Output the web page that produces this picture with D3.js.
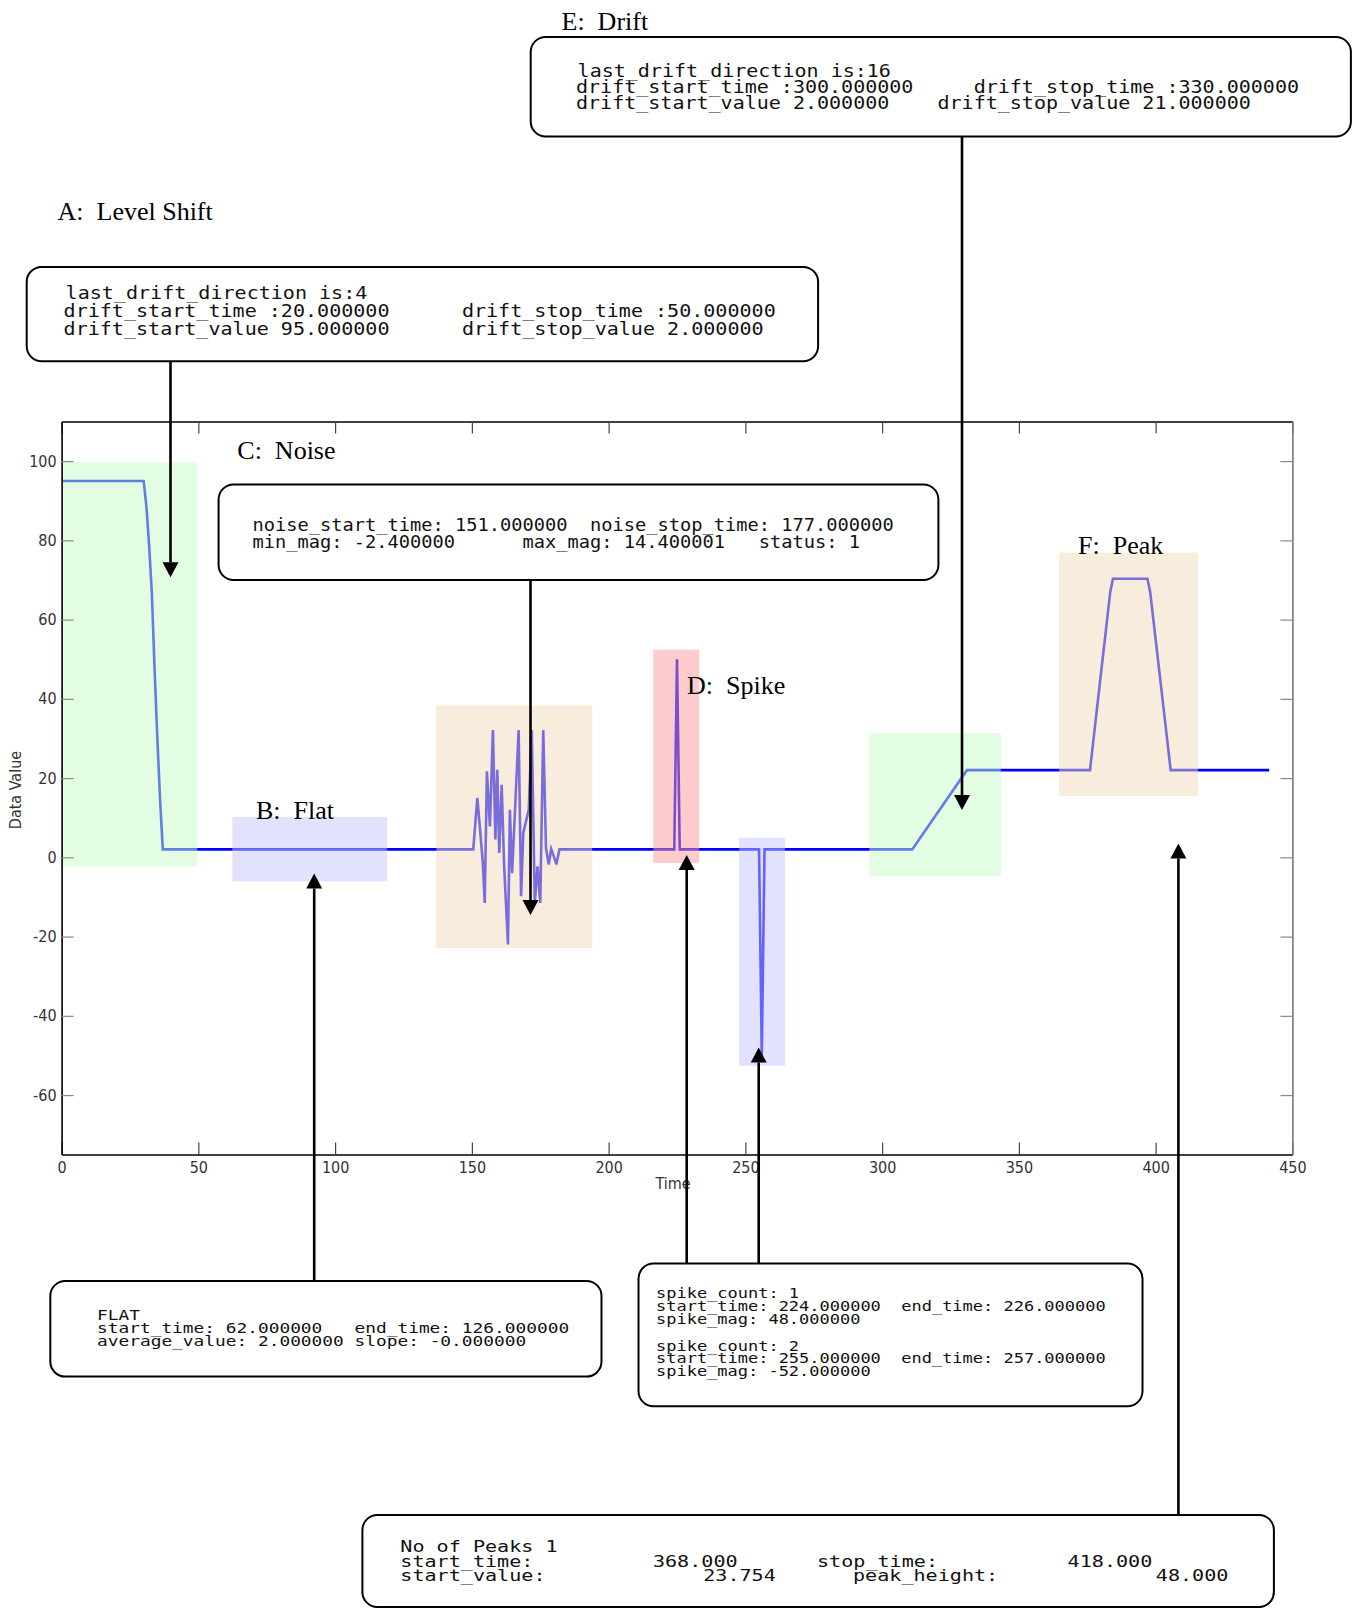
<!DOCTYPE html>
<html><head><meta charset="utf-8">
<script src="https://cdn.jsdelivr.net/npm/d3@7/dist/d3.min.js"></script>
<style>body{margin:0;background:#fff}svg{display:block}</style>
</head><body>
<svg id="c" width="1356" height="1609"></svg>
<script>
// ---------------- DATA ----------------
const xTicks = [0, 50, 100, 150, 200, 250, 300, 350, 400, 450];
const yTicks = [-60, -40, -20, 0, 20, 40, 60, 80, 100];
const xDomain = [0, 450];
const yDomain = [-75, 110];

// time series breakpoints (Time, Data Value)
const timeValues = [0.5, 30, 31, 32, 33, 34, 35, 36, 37,
  150.5, 152, 153, 154, 154.7, 155.5, 156.6, 157.7, 158.6, 159.3, 160, 160.9, 161.8, 163.2, 163.9,
  164.7, 165.4, 167.1, 168, 168.8, 170.8, 171.9, 173, 174, 175, 176.1, 177.1, 178.1, 179, 180, 180.9, 182,
  224, 225, 226, 255, 256, 257, 311, 331, 376, 383.4, 384.4, 397, 398, 405.5, 441.5];
const dataValues = [95, 95, 88.6, 78.7, 66.6, 47.4, 30.1, 14.6, 2,
  2, 15, 7, -1.4, -11.5, 21.7, 7.8, 32.1, 4.5, 22.1, 1.1, 18.3, -2.3, -22, 12,
  -4, 6.2, 32.1, -9.8, 6.2, 12, 32.1, -11.5, -2.3, -11.5, 32.1, 2.3, -1.8, 2.1, 0.2, -1.8, 2,
  2, 50, 2, 2, -50, 2, 2, 22, 22, 67, 70.3, 70.3, 67, 22, 22];

// highlighted event regions
const regionNames = ["A", "B", "C", "D1", "D2", "E", "F"];
const regionStart = [0.5, 62.4, 137, 216.3, 247.7, 295.3, 364.7];
const regionEnd   = [49.6, 119, 194, 233.1, 264.5, 343.4, 415.5];
const regionLow   = [-2.3, -6.1, -22.9, -1.4, -52.6, -4.8, 15.5];
const regionHigh  = [99.7, 10.2, 38.3, 52.4, 4.9, 31.3, 76.9];

const sectionLabels = ["A:  Level Shift", "B:  Flat", "C:  Noise", "D:  Spike", "E:  Drift", "F:  Peak"];

const levelShiftText = ["last_drift_direction is:4",
  "drift_start_time :20.000000      drift_stop_time :50.000000",
  "drift_start_value 95.000000      drift_stop_value 2.000000"];
const driftText = ["last_drift_direction is:16",
  "drift_start_time :300.000000     drift_stop_time :330.000000",
  "drift_start_value 2.000000    drift_stop_value 21.000000"];
const noiseText = ["noise_start_time: 151.000000  noise_stop_time: 177.000000",
  "min_mag: -2.400000      max_mag: 14.400001   status: 1"];
const flatText = ["FLAT",
  "start_time: 62.000000   end_time: 126.000000",
  "average_value: 2.000000 slope: -0.000000"];
const spikeText = ["spike_count: 1",
  "start_time: 224.000000  end_time: 226.000000",
  "spike_mag: 48.000000",
  "spike_count: 2",
  "start_time: 255.000000  end_time: 257.000000",
  "spike_mag: -52.000000"];
const peakText = ["No of Peaks 1", "start_time:", "start_value:", "368.000", "23.754",
  "stop_time:", "peak_height:", "418.000", "48.000"];

// ---------------- LAYOUT / STYLE ----------------
const svg = d3.select("#c");
const PL = 61.6, PR = 1292.4, PT = 421.5, PB = 1154.5;
const x = d3.scaleLinear().domain(xDomain).range([PL, PR]);
const y = d3.scaleLinear().domain(yDomain).range([PB, PT]);
const regionFill = {A: "#c5fbc5", B: "#c5c5ff", C: "#f1d9b9", D1: "#f99999", D2: "#c5c5ff", E: "#c5fbc5", F: "#f1d9b9"};
const axisFont = "'Liberation Sans Narrow','Arial Narrow','DejaVu Sans Condensed',sans-serif";
const serif = "'Liberation Serif','Times New Roman',serif";
const mono = "'DejaVu Sans Mono','Liberation Mono',monospace";

svg.append("rect").attr("width", 1356).attr("height", 1609).attr("fill", "#fff");

// annotation boxes
const boxes = [
  {x: 26.7, y: 266.9, w: 791.4, h: 94.4},
  {x: 530.7, y: 37, w: 820.2, h: 99.5},
  {x: 218.6, y: 484.5, w: 719.8, h: 95.5},
  {x: 50.3, y: 1281, w: 551.2, h: 95.6},
  {x: 638.5, y: 1263.6, w: 504, h: 142.7},
  {x: 362.4, y: 1515, w: 911.5, h: 92}
];
svg.append("g").selectAll("rect").data(boxes).join("rect")
  .attr("x", d => d.x).attr("y", d => d.y).attr("width", d => d.w).attr("height", d => d.h)
  .attr("rx", 15).attr("ry", 15).attr("fill", "#fff").attr("stroke", "#000").attr("stroke-width", 2);

function monoBlock(lines, x0, baselines, cw, fs, dx) {
  const g = svg.append("g");
  lines.forEach((s, i) => {
    g.append("text").attr("x", x0 + (dx ? dx[i] || 0 : 0)).attr("y", baselines[i])
      .attr("xml:space", "preserve").style("white-space", "pre")
      .attr("font-family", mono).attr("font-size", fs).attr("fill", "#111")
      .attr("textLength", s.length * cw).attr("lengthAdjust", "spacingAndGlyphs")
      .text(s);
  });
}
monoBlock(levelShiftText, 63.6, [299, 316.5, 334.5], 12.07, 17.5, [2, 0, 0]);
monoBlock(driftText, 576, [77, 92.7, 108.5], 12.05, 17, [1.6, 0, 0]);
monoBlock(noiseText, 252.5, [531, 548], 11.25, 18, null);
monoBlock(flatText, 97, [1320, 1333, 1346], 10.73, 13.5, null);
monoBlock(spikeText, 656, [1298, 1311, 1323.5, 1350.5, 1363, 1376], 10.22, 13.5, null);
const peakPos = [[400.3, 0], [400.3, 1], [400.3, 2], [652.9, 1], [703.2, 2], [817, 1], [853, 2], [1067.6, 1], [1155.8, 2]];
const peakBase = [1552, 1567, 1581];
peakText.forEach((s, i) => {
  svg.append("text").attr("x", peakPos[i][0]).attr("y", peakBase[peakPos[i][1]])
    .attr("font-family", mono).attr("font-size", 15).attr("fill", "#111")
    .attr("textLength", s.length * 12.1).attr("lengthAdjust", "spacingAndGlyphs").text(s);
});

// data line
const pts = timeValues.map((t, i) => [t, dataValues[i]]);
svg.append("path").datum(pts)
  .attr("d", d3.line().x(d => x(d[0])).y(d => y(d[1])))
  .attr("fill", "none").attr("stroke", "#0000ff").attr("stroke-width", 2.6).attr("stroke-linejoin", "miter");

// highlight regions (semi-transparent, over the line)
svg.append("g").selectAll("rect").data(regionNames).join("rect")
  .attr("x", (d, i) => x(regionStart[i])).attr("width", (d, i) => x(regionEnd[i]) - x(regionStart[i]))
  .attr("y", (d, i) => y(regionHigh[i])).attr("height", (d, i) => y(regionLow[i]) - y(regionHigh[i]))
  .attr("fill", d => regionFill[d]).attr("fill-opacity", 0.5);

// axes
const fmt = d => String(d);
const gx = svg.append("g").attr("transform", `translate(0,${PB})`)
  .call(d3.axisBottom(x).tickValues(xTicks).tickSizeInner(-12).tickSizeOuter(0).tickPadding(7).tickFormat(fmt));
const gxt = svg.append("g").attr("transform", `translate(0,${PT})`)
  .call(d3.axisTop(x).tickValues(xTicks).tickSizeInner(-12).tickSizeOuter(0).tickFormat(""));
const gy = svg.append("g").attr("transform", `translate(${PL},0)`)
  .call(d3.axisLeft(y).tickValues(yTicks).tickSizeInner(-12).tickSizeOuter(0).tickPadding(5).tickFormat(fmt));
const gyr = svg.append("g").attr("transform", `translate(${PR},0)`)
  .call(d3.axisRight(y).tickValues(yTicks).tickSizeInner(-12).tickSizeOuter(0).tickFormat(""));
[gx, gxt, gy].forEach(g => g.select(".domain").attr("stroke", "#000").attr("stroke-width", 1.6));
gyr.select(".domain").attr("stroke", "#777").attr("stroke-width", 1.6);
[gx, gxt].forEach(g => g.selectAll(".tick line").attr("stroke", "#444").attr("stroke-width", 1.2));
[gy, gyr].forEach(g => g.selectAll(".tick line").attr("stroke", "#888").attr("stroke-width", 1.2));
[gx, gy].forEach(g => g.selectAll(".tick text").attr("font-family", axisFont).attr("font-size", 16).attr("fill", "#333"));
svg.selectAll(".domain").attr("fill", "none");

svg.append("text").attr("x", (PL + PR) / 2 - 4).attr("y", 1189).attr("text-anchor", "middle")
  .attr("font-family", axisFont).attr("font-size", 16).attr("fill", "#333").text("Time");
svg.append("text").attr("transform", "translate(21,790) rotate(-90)").attr("text-anchor", "middle")
  .attr("font-family", axisFont).attr("font-size", 16).attr("fill", "#333").text("Data Value");

// section labels
const labelPos = [[57.5, 219.5], [256, 818.5], [237.3, 459], [687, 694], [561.5, 29.5], [1078, 554.3]];
sectionLabels.forEach((s, i) => {
  svg.append("text").attr("x", labelPos[i][0]).attr("y", labelPos[i][1])
    .attr("xml:space", "preserve").style("white-space", "pre")
    .attr("font-family", serif).attr("font-size", 26).attr("fill", "#000").text(s);
});

// arrows
const arrows = [
  {x: 170.5, y0: 361.3, y1: 577.3},
  {x: 962, y0: 136.5, y1: 810},
  {x: 530.5, y0: 580, y1: 915},
  {x: 314.2, y0: 1281, y1: 873.5},
  {x: 686.7, y0: 1263.6, y1: 855},
  {x: 758.7, y0: 1263.6, y1: 1047.5},
  {x: 1178.4, y0: 1515, y1: 843.5}
];
const ag = svg.append("g");
arrows.forEach(a => {
  const dir = a.y1 > a.y0 ? 1 : -1;
  const L = 15, hw = 8;
  ag.append("line").attr("x1", a.x).attr("x2", a.x).attr("y1", a.y0).attr("y2", a.y1 - dir * L)
    .attr("stroke", "#000").attr("stroke-width", 2.6);
  ag.append("path").attr("d", `M${a.x},${a.y1} L${a.x - hw},${a.y1 - dir * L} L${a.x + hw},${a.y1 - dir * L} Z`)
    .attr("fill", "#000");
});
</script>
</body></html>
